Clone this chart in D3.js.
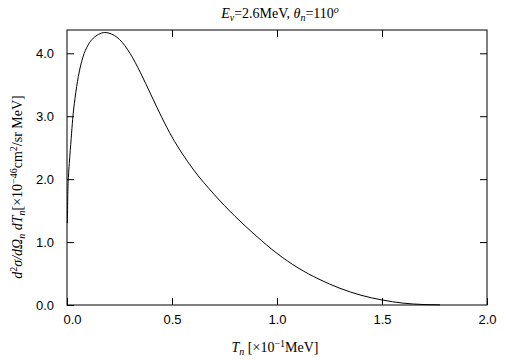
<!DOCTYPE html>
<html>
<head>
<meta charset="utf-8">
<script src="https://cdn.jsdelivr.net/npm/d3@7"></script>
<style>
  body { margin: 0; background: #fff; }
  svg { display: block; }
  .tick text { font-family: "Liberation Sans", Arial, sans-serif; font-size: 13px; fill: #000; }
  .lbl { font-family: "Liberation Serif", "Times New Roman", serif; font-size: 14px; fill: #000; }
</style>
</head>
<body>
<svg id="chart" width="505" height="361"></svg>
<script>
// Tn [x10^-1 MeV] and d2sigma values
const tn = [0.002, 0.004, 0.007, 0.011, 0.02, 0.027, 0.038, 0.054, 0.075, 0.1, 0.125, 0.15, 0.18, 0.2, 0.25, 0.3, 0.35, 0.4, 0.45, 0.5, 0.55, 0.6, 0.7, 0.8, 0.9, 1.0, 1.1, 1.2, 1.3, 1.4, 1.5, 1.6, 1.7, 1.776];
const xsec = [1.3, 1.8, 2.05, 2.25, 2.65, 2.95, 3.28, 3.63, 3.93, 4.13, 4.24, 4.30, 4.33, 4.32, 4.22, 4.0, 3.69, 3.34, 2.99, 2.67, 2.40, 2.16, 1.76, 1.41, 1.10, 0.82, 0.59, 0.41, 0.265, 0.155, 0.08, 0.03, 0.007, 0.002];
const xTicks = [0, 0.5, 1.0, 1.5, 2.0];
const yTicks = [0, 1, 2, 3, 4];

const data = tn.map((t, i) => ({t: t, v: xsec[i]}));

const svg = d3.select("#chart"),
      margin = {top: 30, right: 18, bottom: 56, left: 67},
      width = +svg.attr("width"),
      height = +svg.attr("height");

const x = d3.scaleLinear()
    .domain([0, 2])
    .range([margin.left, width - margin.right]);

const y = d3.scaleLinear()
    .domain([0, 4.37])
    .range([height - margin.bottom, margin.top]);

// frame
svg.append("rect")
    .attr("x", x(0)).attr("y", y(4.37))
    .attr("width", x(2) - x(0)).attr("height", y(0) - y(4.37))
    .attr("fill", "none").attr("stroke", "#000").attr("stroke-width", 1);

const tickLen = 7;

// bottom axis with labels
svg.append("g")
    .attr("transform", `translate(0,${y(0)})`)
    .call(d3.axisBottom(x).tickValues(xTicks).tickSize(-tickLen).tickPadding(tickLen + 3).tickFormat(d3.format(".1f")))
    .call(g => g.select(".domain").remove())
    .call(g => g.selectAll(".tick text").filter(d => d === 0).attr("dx", 5));

// top ticks
svg.append("g")
    .attr("transform", `translate(0,${y(4.37)})`)
    .call(d3.axisTop(x).tickValues(xTicks.slice(1, -1)).tickSize(-tickLen).tickFormat(""))
    .call(g => g.select(".domain").remove());

// left axis with labels
svg.append("g")
    .attr("transform", `translate(${x(0)},0)`)
    .call(d3.axisLeft(y).tickValues(yTicks).tickSize(-tickLen).tickPadding(tickLen + 6).tickFormat(d3.format(".1f")))
    .call(g => g.select(".domain").remove());

// right ticks
svg.append("g")
    .attr("transform", `translate(${x(2)},0)`)
    .call(d3.axisRight(y).tickValues(yTicks.slice(1)).tickSize(-tickLen).tickFormat(""))
    .call(g => g.select(".domain").remove());

svg.selectAll(".tick line").attr("stroke", "#000");

// curve
const line = d3.line()
    .x(d => x(d.t))
    .y(d => y(d.v))
    .curve(d3.curveMonotoneX);

svg.append("path")
    .datum(data)
    .attr("fill", "none")
    .attr("stroke", "#000")
    .attr("stroke-width", 1)
    .attr("d", line);

// title
const title = svg.append("text").attr("class", "lbl")
    .attr("x", 280).attr("y", 18).attr("text-anchor", "middle");
title.append("tspan").attr("font-style", "italic").text("E");
title.append("tspan").attr("font-style", "italic").attr("font-size", "10px").attr("dy", 3).text("ν");
title.append("tspan").attr("dy", -3).text("=2.6MeV,  ");
title.append("tspan").attr("font-style", "italic").text("θ");
title.append("tspan").attr("font-style", "italic").attr("font-size", "10px").attr("dy", 3).text("n");
title.append("tspan").attr("dy", -3).text("=110");
title.append("tspan").attr("font-style", "italic").attr("font-size", "10px").attr("dy", -5).text("o");

// x label
const xl = svg.append("text").attr("class", "lbl")
    .attr("x", 275).attr("y", 352).attr("text-anchor", "middle");
xl.append("tspan").attr("font-style", "italic").text("T");
xl.append("tspan").attr("font-style", "italic").attr("font-size", "10px").attr("dy", 3).text("n");
xl.append("tspan").attr("dy", -3).text(" [×10");
xl.append("tspan").attr("font-size", "10px").attr("dy", -5).text("−1");
xl.append("tspan").attr("dy", 5).text("MeV]");

// y label
const yl = svg.append("text").attr("class", "lbl")
    .attr("transform", "translate(22,187) rotate(-90)")
    .attr("text-anchor", "middle");
yl.append("tspan").attr("font-style", "italic").text("d");
yl.append("tspan").attr("font-size", "10px").attr("dy", -5).text("2");
yl.append("tspan").attr("font-style", "italic").attr("dy", 5).text("σ/dΩ");
yl.append("tspan").attr("font-style", "italic").attr("font-size", "10px").attr("dy", 3).text("n");
yl.append("tspan").attr("font-style", "italic").attr("dy", -3).text(" dT");
yl.append("tspan").attr("font-style", "italic").attr("font-size", "10px").attr("dy", 3).text("n");
yl.append("tspan").attr("dy", -3).text("[×10");
yl.append("tspan").attr("font-size", "10px").attr("dy", -5).text("−46");
yl.append("tspan").attr("dy", 5).text("cm");
yl.append("tspan").attr("font-size", "10px").attr("dy", -5).text("2");
yl.append("tspan").attr("dy", 5).text("/sr MeV]");
</script>
</body>
</html>
